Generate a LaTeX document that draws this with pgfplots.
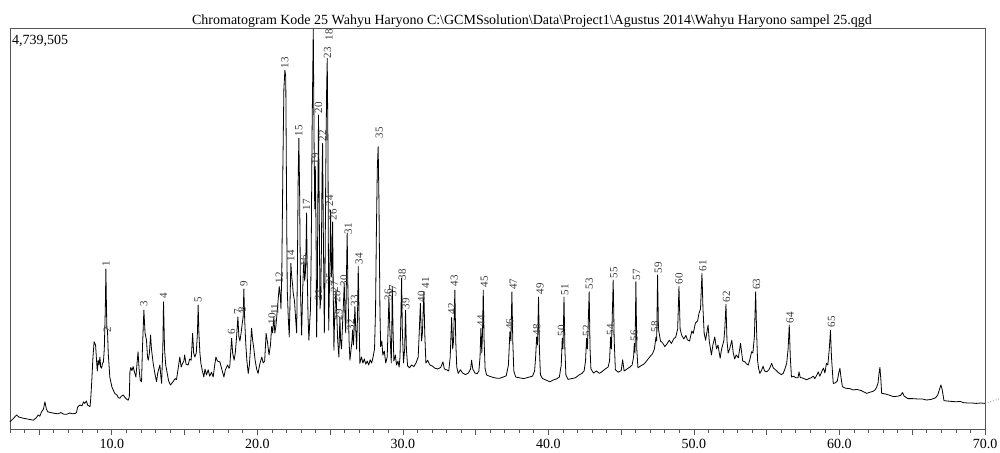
\documentclass[border=0pt]{standalone}
\usepackage{pgfplots}
\pgfplotsset{compat=1.18}
\usepackage{pgfplotstable}
\usepackage{fontspec}
\setmainfont{Liberation Serif}
\definecolor{framegray}{HTML}{555555}
\definecolor{labelgray}{HTML}{3A3A3A}

\pgfplotstableread{
t y
3.0 1.8
3.2 2.5
3.45 3.5
3.6 3.0
3.9 2.7
4.2 2.5
4.6 2.2
4.8 2.8
4.94 3.5
5.05 3.2
5.17 4.3
5.3 5.0
5.4 6.8
5.5 5.0
5.6 4.3
5.8 4.1
6.08 3.9
6.3 3.8
6.5 4.1
6.7 3.7
6.9 3.7
7.1 4.0
7.3 3.8
7.5 3.9
7.57 4.2
7.65 5.5
7.8 6.0
7.95 5.8
8.05 6.8
8.14 6.4
8.25 7.0
8.35 5.9
8.5 5.6
8.55 7.7
8.62 12
8.7 18
8.78 21.8
8.88 21
8.95 17
9.0 14.5
9.06 17.2
9.12 16
9.18 18
9.23 15.5
9.29 15.2
9.36 16.4
9.42 16.8
9.48 20
9.55 30
9.59 40
9.63 30
9.66 25
9.7 24.7
9.75 19
9.86 13
10.0 10.5
10.2 8.9
10.35 8.5
10.45 7.8
10.55 7.7
10.65 8.2
10.78 8.5
10.9 7.9
11.0 7.5
11.12 7.2
11.2 8
11.24 14.3
11.3 15.4
11.38 14.6
11.46 15.6
11.55 14.3
11.65 13
11.72 16
11.8 19.3
11.87 15
11.95 12.2
12.04 11.8
12.1 20
12.2 29.7
12.28 24
12.38 22.2
12.45 18
12.5 17.2
12.58 19
12.66 23.5
12.72 20
12.84 16.4
12.95 14
13.07 11.8
13.15 14
13.3 16
13.37 13
13.42 11.4
13.5 20
13.55 31.8
13.62 20
13.7 16
13.76 14.8
13.9 12
14.03 11
14.2 11.8
14.35 12.6
14.44 12.3
14.55 15
14.67 18
14.76 15.5
14.86 16.4
14.95 17
15.0 18.5
15.1 16.2
15.24 16
15.35 17.5
15.45 17.2
15.55 23.9
15.62 19
15.7 18
15.8 19
15.88 24
15.93 31
15.98 24
16.05 19
16.12 16.4
16.22 14.5
16.32 13
16.4 15
16.5 13.5
16.62 14.8
16.72 13.2
16.85 14.2
16.96 13
17.05 15.5
17.15 18
17.25 17
17.42 16.8
17.55 15
17.7 13
17.8 14.8
17.95 16
18.05 15.2
18.1 15.5
18.18 20
18.23 22.7
18.3 19
18.4 17.2
18.48 19
18.57 23
18.66 28
18.73 23
18.8 22
18.88 24
18.96 26.4
19.02 28
19.07 35
19.13 27
19.2 21.4
19.28 17
19.37 13.9
19.45 16
19.52 20
19.6 25.2
19.68 22
19.76 20
19.85 17
19.95 15
20.05 13.9
20.15 16
20.3 18
20.4 16.5
20.5 17
20.6 23.9
20.7 21.5
20.8 18.5
20.9 21
20.98 25.6
21.05 24
21.13 28
21.2 24
21.28 26
21.35 29
21.42 32
21.5 35.6
21.58 33
21.62 30
21.68 40
21.75 65
21.82 85
21.89 89.7
21.95 88
22.0 60
22.05 35
22.12 28
22.19 23
22.25 33
22.3 41.4
22.36 38
22.42 36
22.46 34
22.55 32
22.62 28
22.7 24
22.75 40
22.8 62
22.85 72.7
22.9 60
22.96 35
23.04 23.5
23.1 33
23.16 40
23.2 42.2
23.25 37
23.3 39
23.34 45
23.38 54
23.42 40
23.48 28
23.54 22.2
23.6 27
23.65 30
23.7 45
23.76 75
23.84 100
23.9 70
23.94 55
23.98 65.6
24.03 50
24.07 23
24.12 35
24.16 60
24.2 78.5
24.25 55
24.3 30
24.35 32
24.4 45
24.44 62
24.48 71.4
24.53 50
24.6 24
24.65 40
24.7 65
24.76 85
24.8 92.7
24.85 70
24.9 24.7
24.95 35
25.0 45
25.03 54.7
25.08 38
25.12 40
25.17 51.8
25.21 35
25.26 19.7
25.3 27
25.36 32
25.4 34.7
25.46 28
25.52 22
25.6 18
25.64 24
25.67 28
25.72 22
25.78 20
25.85 26
25.92 32
25.97 36.4
26.02 28
26.07 24
26.12 38
26.17 49
26.22 35
26.3 22
26.36 17.2
26.44 20
26.5 22
26.54 24.7
26.6 21
26.65 25
26.7 30.6
26.76 25
26.82 20
26.88 28
26.93 40.6
26.98 30
27.04 16.4
27.15 18
27.25 16.5
27.35 17.5
27.45 16.2
27.55 17
27.65 16
27.75 17.3
27.85 16.5
27.95 18
28.05 20
28.12 30
28.18 50
28.24 65
28.3 70.6
28.36 55
28.42 30
28.47 20.6
28.55 22
28.62 18.5
28.72 19.5
28.82 16.5
28.92 18
28.98 25
29.04 33
29.1 25
29.2 16.5
29.24 26
29.27 35.6
29.32 25
29.38 17
29.48 18.5
29.56 16
29.66 17
29.74 15.5
29.8 18
29.86 28
29.91 37.7
29.96 25
30.04 16.5
30.12 20
30.18 29.7
30.24 20
30.32 15.8
30.45 15.3
30.6 16
30.75 15.6
30.9 16.5
31.05 18
31.12 24
31.2 31.4
31.28 22
31.34 24
31.44 34.3
31.5 24
31.58 16.5
31.7 17.2
31.85 16
32.0 15.8
32.2 15.2
32.4 15
32.6 15.4
32.75 16.8
32.85 15
33.0 14.8
33.15 14.5
33.25 18
33.35 27.9
33.42 20
33.48 22
33.57 34.7
33.63 22
33.7 15.5
33.8 13.9
33.95 14.8
34.1 14
34.3 13.6
34.5 14
34.65 15
34.72 17.2
34.8 15
34.95 14
35.1 13.8
35.22 14.5
35.3 18
35.36 25.2
35.42 19
35.47 24
35.52 34.7
35.58 22
35.65 15
35.75 13.5
35.95 13.2
36.2 12.9
36.45 12.7
36.67 12.7
36.9 13
37.1 13.3
37.25 16
37.3 20
37.35 24.3
37.42 22
37.49 34.3
37.55 22
37.62 14.5
37.75 13
38.0 12.8
38.3 12.6
38.6 12.9
38.9 13.2
39.05 14.5
39.12 18
39.19 23
39.25 21
39.32 33
39.38 20
39.45 13.5
39.6 12.6
39.85 12.2
40.1 11.8
40.3 12.2
40.55 12.5
40.75 13
40.88 16
40.95 22.7
41.0 20
41.07 33
41.13 20
41.2 13.5
41.35 12.4
41.6 12.6
41.85 12.8
42.1 13.5
42.3 13.9
42.45 14.5
42.55 17
42.62 22.7
42.68 20
42.8 34.3
42.86 20
42.92 15
43.1 14
43.3 14.5
43.5 13.9
43.7 14.4
43.9 15
44.1 15.5
44.2 17
44.27 23
44.33 20
44.45 37.2
44.52 22
44.6 14.8
44.8 14.2
45.0 14.6
45.1 17.3
45.2 14.5
45.4 15
45.6 15.5
45.75 16
45.85 18
45.9 21.4
45.95 19
46.01 36.8
46.07 20
46.15 15.3
46.35 15.8
46.55 16.2
46.7 16.8
46.85 17.5
47.0 18.2
47.15 18.8
47.28 20
47.39 23
47.44 22
47.5 38.5
47.56 25
47.7 22
47.85 21.5
48.0 20.6
48.15 21.3
48.3 22.2
48.45 21.4
48.6 22.5
48.75 23
48.88 25
48.97 35.6
49.05 25
49.15 23.5
49.3 22.5
49.45 23.4
49.55 22.3
49.7 22
49.85 24.5
49.95 23.9
50.1 26.5
50.25 27
50.35 29
50.45 30
50.55 38.9
50.62 30
50.7 24
50.8 22.2
50.88 24
50.97 26
51.05 22
51.2 18.5
51.3 21
51.43 23
51.55 20
51.65 21
51.8 17.7
51.9 20
52.05 22
52.12 25
52.2 31.2
52.27 22
52.35 19
52.45 20
52.6 22.2
52.7 19
52.8 17.5
52.9 18.5
53.05 17.8
53.2 21.4
53.35 17
53.5 16.8
53.6 16.3
53.73 16
53.85 17.5
53.96 19.3
54.05 19
54.15 23
54.24 34.3
54.3 25
54.37 17.2
54.45 15
54.53 13.9
54.65 14.7
54.75 15.7
54.85 14.5
55.0 14.3
55.15 14.8
55.25 15.6
55.34 16.4
55.45 15.3
55.6 14.8
55.8 14.1
56.0 13.6
56.13 13.9
56.25 15
56.37 16.4
56.47 20
56.55 26
56.62 18
56.7 13
56.85 13.2
57.0 12.8
57.15 12.8
57.22 14.3
57.3 12.9
57.5 12.7
57.74 12.3
57.9 12.6
58.05 12.8
58.2 13.2
58.3 12.6
58.45 13.5
58.54 14.3
58.65 13.2
58.8 14.5
58.9 15.2
59.0 14
59.1 16.4
59.2 16
59.3 20
59.38 24.7
59.45 18
59.57 11.4
59.7 11.5
59.85 12
59.95 14
60.03 15.2
60.1 13
60.2 10.6
60.4 10.2
60.7 10.1
60.95 9.75
61.2 9.9
61.5 9.6
61.87 8.9
62.1 9.2
62.3 9.4
62.45 9.8
62.55 10.4
62.65 11.5
62.72 14
62.78 15.4
62.84 12.5
62.9 8.9
63.1 8.8
63.4 8.5
63.7 8.1
64.0 8.2
64.2 8.4
64.33 9.1
64.45 8.2
64.7 7.6
65.0 7.6
65.4 7.5
65.7 7.5
65.99 7.25
66.3 7.4
66.6 7.8
66.75 8.5
66.88 10
66.97 11
67.05 10
67.18 7.1
67.4 7.0
67.7 6.9
68.05 6.8
68.3 6.9
68.5 6.6
68.8 6.5
69.1 6.5
69.4 6.4
69.7 6.5
70.0 6.4
}\trace

\pgfplotstableread{
t y l
9.59 40.5 1
9.68 24 2
12.2 30.5 3
13.55 32.5 4
15.93 31.5 5
18.23 23.5 6
18.66 28.5 7
18.96 29 8
19.07 35.5 9
21.0 26 10
21.2 28.5 11
21.5 36.3 12
21.89 90 13
22.3 41.7 14
22.85 73 15
23.2 40.5 16
23.38 54.5 17
24.92 97 18
23.98 66 19
24.2 78.8 20
24.2 32 21
24.48 71.7 22
24.82 92.5 23
24.95 55.5 24
25.0 36 25
25.2 52 26
25.3 34 27
25.45 31.5 28
25.6 27 29
25.95 35.5 30
26.25 48.5 31
26.4 24.5 32
26.68 30.5 33
26.98 41 34
28.38 72.5 35
28.99 32 36
29.3 33 37
29.95 37 38
30.2 29.7 39
31.28 31.5 40
31.56 35 41
33.35 28.5 42
33.53 35.5 43
35.36 25.5 44
35.6 35.2 45
37.35 24.6 46
37.58 34.6 47
39.19 23.3 48
39.42 33.5 49
40.9 23 50
41.13 33.3 51
42.62 23 52
42.8 34.8 53
44.27 23.3 54
44.5 37.5 55
45.9 21.8 56
46.06 37 57
47.32 24 58
47.55 38.8 59
48.98 36 60
50.6 39.2 61
52.24 31.5 62
54.3 34.6 63
56.6 26.3 64
59.46 25.2 65
}\labels

\begin{document}
\begin{tikzpicture}
\useasboundingbox (-10pt,-23pt) rectangle (990pt,429pt);
\begin{axis}[
  at={(0pt,0pt)}, anchor=south west,
  scale only axis, width=975pt, height=400pt,
  xmin=3, xmax=70, ymin=0, ymax=100,
  clip=false,
  axis line style={framegray, line width=1pt},
  ytick=\empty,
  xtick={5,10,...,70},
  xticklabels={,10.0,,20.0,,30.0,,40.0,,50.0,,60.0,,70.0},
  minor xtick={3,4,...,70},
  xtick pos=bottom, xtick align=outside,
  major tick length=6pt, minor tick length=4pt,
  every tick/.style={framegray, line width=0.8pt},
  tick label style={font=\fontsize{14}{14}\selectfont, text=black},
  /pgf/number format/assume math mode=true,
  xticklabel style={yshift=-1pt},
]
\addplot[black, line width=0.8pt, line join=round] table[x=t,y=y] {\trace};
\addplot[gray, dotted, line width=0.8pt] coordinates {(70,6.4) (71.05,7.6)};
\addplot[draw=none, mark=none,
  nodes near coords={\pgfplotspointmeta},
  point meta=explicit symbolic,
  every node near coord/.style={rotate=90, anchor=west, inner sep=0.5pt,
    font=\fontsize{11}{11}\selectfont, text=labelgray}]
  table[x=t,y=y,meta=l] {\labels};
\node[anchor=base west, font=\fontsize{14}{14}\selectfont, inner sep=0pt]
  at (rel axis cs:0,1) [xshift=2pt, yshift=-16pt] {4,739,505};
\node[anchor=base, font=\fontsize{14}{14}\selectfont, inner sep=0pt]
  at (rel axis cs:0.5354,1) [yshift=4pt]
  {Chromatogram Kode 25 Wahyu Haryono C:\textbackslash GCMSsolution\textbackslash Data\textbackslash Project1\textbackslash Agustus 2014\textbackslash Wahyu Haryono sampel 25.qgd};
\end{axis}
\end{tikzpicture}
\end{document}
